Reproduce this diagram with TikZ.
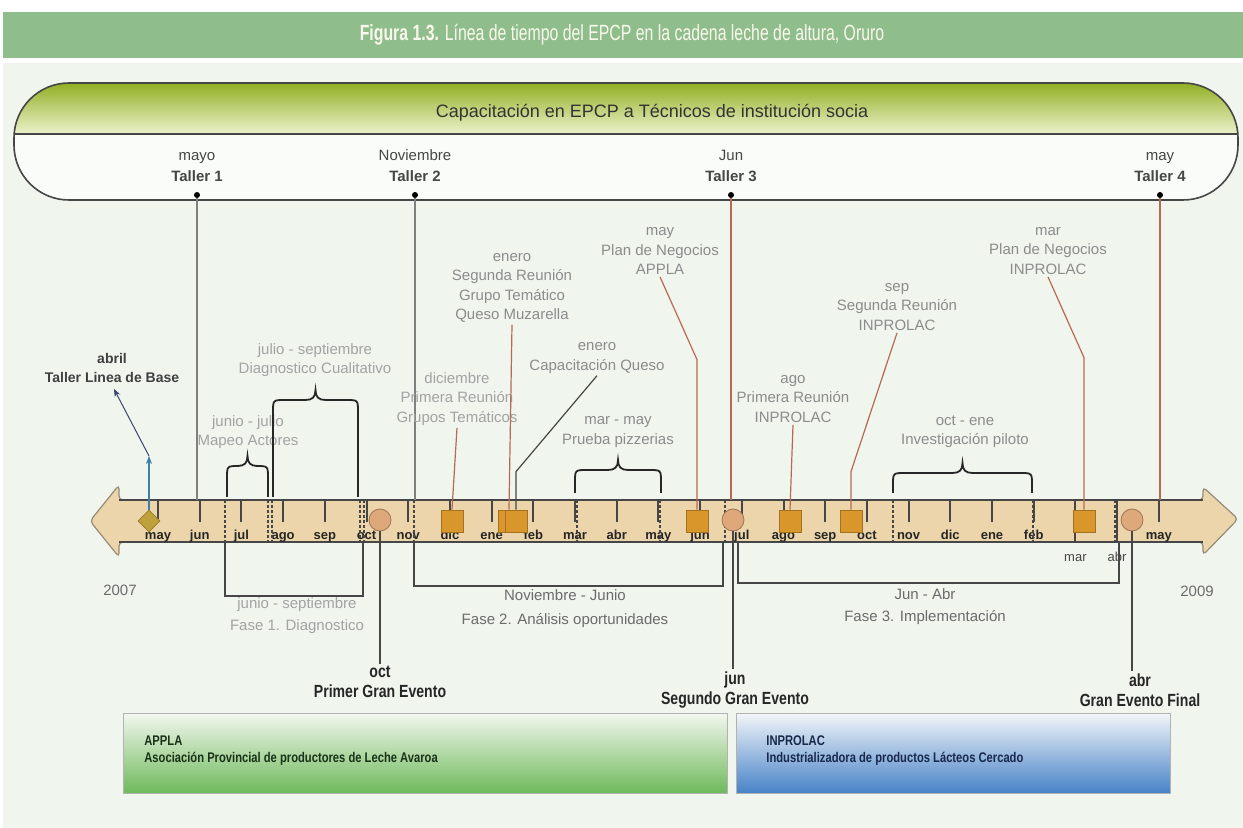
\documentclass[tikz,border=0pt]{standalone}
\usepackage{fontspec}
\setmainfont{Liberation Sans}
\newfontfamily\condfont[FakeStretch=0.8]{Liberation Sans}
\newfontfamily\titlefont[FakeStretch=0.72]{Liberation Sans}
\usetikzlibrary{positioning,calc,arrows.meta,shapes.geometric}
\definecolor{titlegreen}{RGB}{143,190,140}
\definecolor{titletext}{RGB}{250,248,236}
\definecolor{paper}{RGB}{240,245,238}
\definecolor{barfill}{RGB}{236,213,170}
\definecolor{baredge}{RGB}{150,138,120}
\definecolor{boxorange}{RGB}{217,150,42}
\definecolor{evfill}{RGB}{222,168,122}
\definecolor{leadred}{RGB}{185,105,80}
\definecolor{softgray}{RGB}{140,140,140}
\definecolor{darkgray}{RGB}{70,70,70}
\definecolor{capatop}{RGB}{145,175,35}
\definecolor{capamid}{RGB}{200,224,60}
\definecolor{capabot}{RGB}{236,242,205}
\definecolor{diafill}{RGB}{190,160,60}
\definecolor{diaedge}{RGB}{150,125,40}
\definecolor{arrowblue}{RGB}{60,127,168}
\definecolor{arrownavy}{RGB}{60,70,110}
\definecolor{appletop}{RGB}{242,247,238}
\definecolor{applebot}{RGB}{110,185,90}
\definecolor{inprotop}{RGB}{242,245,248}
\definecolor{inprobot}{RGB}{70,130,200}
\definecolor{appletext}{RGB}{25,50,25}
\definecolor{inprotext}{RGB}{25,40,75}

% brace over a group of months: x1, x2, bottom, top
\newcommand{\grpbrace}[4]{%
  \pgfmathsetmacro\brmid{(#1+#2)/2}
  \draw[brc] (#1,#3) -- (#1,#4+12) .. controls (#1,#4) .. (#1+12,#4)
    -- (\brmid-10,#4) .. controls (\brmid-3,#4) and (\brmid,#4-3) .. (\brmid,#4-10)
    .. controls (\brmid,#4-3) and (\brmid+3,#4) .. (\brmid+10,#4)
    -- (#2-12,#4) .. controls (#2,#4) .. (#2,#4+12) -- (#2,#3);}

\begin{document}
\begin{tikzpicture}[x=0.5pt,y=-0.5pt,
    lbl/.style={align=center,text=softgray,inner sep=1pt,font=\fontsize{7.5}{9.7}\selectfont},
    taller/.style={align=center,text=darkgray,inner sep=1pt,font=\fontsize{7.5}{10.5}\selectfont},
    fase/.style={align=center,text=darkgray!80,inner sep=1pt,font=\fontsize{7.5}{11}\selectfont},
    evento/.style={align=center,text=black!85,inner sep=1pt,font=\condfont\bfseries\fontsize{8.8}{10}\selectfont},
    mes/.style={anchor=base,inner sep=0pt,text=black!85,font=\bfseries\fontsize{6.5}{7}\selectfont},
    mesb/.style={anchor=base,inner sep=0pt,text=darkgray,font=\fontsize{6.5}{7}\selectfont},
    sq/.style={draw=boxorange!75!black,fill=boxorange,minimum size=11pt,inner sep=0pt},
    ev/.style={circle,draw=evfill!70!black,fill=evfill,minimum size=11pt,inner sep=0pt},
    dot/.style={circle,fill=black,minimum size=3pt,inner sep=0pt},
    tick/.style={draw=darkgray,line width=1pt},
    dashln/.style={draw=darkgray,line width=0.6pt,dash pattern=on 1.5pt off 1pt},
    lead/.style={draw=leadred,line width=0.6pt},
    brc/.style={draw=black!85,line width=0.9pt},
    phase/.style={draw=darkgray,line width=0.6pt},
    orgbox/.style={anchor=north west,draw=black!30,minimum width=302pt,minimum height=40pt},
    orgtxt/.style={anchor=north west,align=left,inner sep=0pt,font=\condfont\bfseries\fontsize{7}{8.5}\selectfont}]
  \useasboundingbox (0,0) rectangle (1243,828);
  \fill[white] (0,0) rectangle (1243,828);
  \fill[paper] (3,63) rectangle (1243,828);
  \fill[titlegreen] (3,12) rectangle (1243,58);
  \node[text=titletext,font=\titlefont\fontsize{11}{13}\selectfont] (title) at (622,35)
    {\textbf{Figura 1.3.} Línea de tiempo del EPCP en la cadena leche de altura, Oruro};

  % capsule of the training line
  \fill[white!70!paper,rounded corners=27.5pt] (14,83) rectangle (1238,200);
  \begin{scope}
    \clip[rounded corners=27.5pt] (14,83) rectangle (1238,200);
    \shade[top color=capatop,middle color=capamid,bottom color=capabot] (14,83) rectangle (1238,134);
  \end{scope}
  \draw[darkgray,line width=0.8pt,rounded corners=27.5pt] (14,83) rectangle (1238,200);
  \draw[darkgray,line width=0.8pt] (14,134) -- (1238,134);
  \node[text=black!80,font=\fontsize{9}{11}\selectfont] (capa) at (652,113)
    {Capacitación en EPCP a Técnicos de institución socia};

  % timeline bar
  \draw[baredge,fill=barfill,line width=0.6pt,rounded corners=2pt]
    (90,521) -- (119,485) -- (119,500) -- (1203,500) -- (1203,487) -- (1238,519)
    -- (1203,555) -- (1203,542) -- (119,542) -- (119,557) -- cycle;
  \draw[darkgray,line width=0.7pt] (119,500) -- (1203,500) (119,542) -- (1203,542);

  \foreach \m [count=\k from 0] in {may,jun,jul,ago,sep,oct,nov,dic,ene,feb,mar,abr,
      may,jun,jul,ago,sep,oct,nov,dic,ene,feb,mar,abr,may} {
    \coordinate (t\k) at ({158+41.7*\k},500);
    \pgfmathtruncatemacro\spc{(\k==22)+(\k==23)}
    \ifnum\spc=0
      \draw[tick] (t\k) -- ++(0,22);
      \node[mes] at ($(t\k)+(0,40)$) {\m};
    \else
      \draw[tick] (t\k) -- ++(0,42);
      \node[mesb] at ($(t\k)+(0,62)$) {\m};
    \fi
  }
  \foreach \x in {225,268,272,360,364,414,577,660,725,893,1033,1115}
    \draw[dashln] (\x,500) -- (\x,542);

  % workshops
  \node[dot] (d1) at (197,195) {};
  \node[dot] (d2) at (415,195) {};
  \node[dot] (d3) at (731,195) {};
  \node[dot] (d4) at (1160,195) {};
  \node[taller,above=4pt of d1] (w1) {mayo\\\textbf{Taller 1}};
  \node[taller,above=4pt of d2] (w2) {Noviembre\\\textbf{Taller 2}};
  \node[taller,above=4pt of d3] (w3) {Jun\\\textbf{Taller 3}};
  \node[taller,above=4pt of d4] (w4) {may\\\textbf{Taller 4}};
  \draw[gray,line width=0.6pt] (d1) -- (d1 |- t1);
  \draw[gray,line width=0.6pt] (d2) -- (d2 |- t6);
  \draw[leadred,line width=0.6pt] (d3) -- (d3 |- t13);
  \draw[leadred,line width=0.6pt] (d4) -- (d4 |- t24);

  % meetings and activities
  \node[sq] (sqDic) at (452,521) {};
  \node[sq] (sqEneA) at (509,521) {};
  \node[sq] (sqEneB) at (516,521) {};
  \node[sq] (sqJun) at (697,521) {};
  \node[sq] (sqAgo) at (790,521) {};
  \node[sq] (sqOct) at (851,521) {};
  \node[sq] (sqMar) at (1084,521) {};

  \node[lbl] (lbSeg) at (512,288) {enero\\Segunda Reunión\\Grupo Temático\\Queso Muzarella};
  \node[lbl] (lbAppla) at (660,251) {may\\Plan de Negocios\\APPLA};
  \node[lbl] (lbCap) at (597,358) {enero\\Capacitación Queso};
  \node[lbl,text=softgray!80] (lbDic) at (457,399) {diciembre\\Primera Reunión\\Grupos Temáticos};
  \node[lbl] (lbPiz) at (618,432) {mar - may\\Prueba pizzerias};
  \node[lbl] (lbAgo) at (793,399) {ago\\Primera Reunión\\INPROLAC};
  \node[lbl] (lbSep) at (897,307) {sep\\Segunda Reunión\\INPROLAC};
  \node[lbl] (lbMar) at (1048,251) {mar\\Plan de Negocios\\INPROLAC};
  \node[lbl] (lbInv) at (965,432) {oct - ene\\Investigación piloto};
  \node[lbl,text=softgray!80] (lbDiag) at (315,360) {julio - septiembre\\Diagnostico Cualitativo};
  \node[lbl,text=softgray!80] (lbMap) at (248,432) {junio - julio\\Mapeo Actores};
  \node[lbl,text=black!75,font=\bfseries\fontsize{7}{9.7}\selectfont] (lbAbril) at (112,368)
    {abril\\Taller Linea de Base};

  \draw[lead] (sqDic.north) -- (lbDic.south);
  \draw[lead] (sqEneA.north) -- (lbSeg.south);
  \draw[lead,draw=darkgray] (sqEneB.north) -- ++(0,-38) -- (lbCap.south);
  \draw[lead] (sqJun.north) -- ++(0,-150) -- (lbAppla.south);
  \draw[lead] (sqAgo.north) -- (lbAgo.south);
  \draw[lead] (sqOct.north) -- ++(0,-38) -- (lbSep.south);
  \draw[lead] (sqMar.north) -- ++(0,-152) -- (lbMar.south);

  \grpbrace{227}{268}{497}{466}
  \grpbrace{273}{358}{497}{400}
  \grpbrace{575}{661}{493}{470}
  \grpbrace{893}{1032}{493}{473}

  % base line workshop
  \node[diamond,draw=diaedge,fill=diafill,minimum size=11pt,inner sep=0pt] (dia) at (149,521) {};
  \coordinate (bl) at (149,456);
  \draw[arrowblue,line width=0.6pt,-{Stealth[length=4pt]}] (dia.north) -- (bl);
  \draw[arrownavy,line width=0.5pt,-{Stealth[length=4pt]},shorten >=2pt] (bl) -- (lbAbril.south);

  % phases
  \coordinate (f1a) at (225,542); \coordinate (f1b) at (363,542);
  \coordinate (f2a) at (414,542); \coordinate (f2b) at (723,542);
  \coordinate (f3a) at (738,542); \coordinate (f3b) at (1119,542);
  \draw[phase] (f1a) -- ++(0,54) -| (f1b);
  \draw[phase] (f2a) -- ++(0,44) -| (f2b);
  \draw[phase] (f3a) -- ++(0,41) -| (f3b);
  \node[fase,text=softgray!80] (p1) at (297,616) {junio - septiembre\\Fase 1. Diagnostico};
  \node[fase,font=\fontsize{7.5}{12}\selectfont] (p2) at (565,609) {Noviembre - Junio\\Fase 2. Análisis oportunidades};
  \node[fase] (p3) at (925,607) {Jun - Abr\\Fase 3. Implementación};
  \node[fase] (y1) at (120,590) {2007};
  \node[fase] (y2) at (1197,591) {2009};

  % big events
  \node[ev] (ev1) at (380,520) {};
  \node[ev] (ev2) at (733,520) {};
  \node[ev] (ev3) at (1132,520) {};
  \node[evento] (g1) at (380,682) {oct\\Primer Gran Evento};
  \node[evento] (g2) at (735,690) {jun\\Segundo Gran Evento};
  \node[evento] (g3) at (1140,690) {abr\\Gran Evento Final};
  \draw[darkgray,line width=0.6pt] (ev1.south) -- (ev1.south |- g1.north);
  \draw[darkgray,line width=0.6pt] (ev2.south) -- (ev2.south |- g2.north);
  \draw[darkgray,line width=0.6pt] (ev3.south) -- (ev3.south |- g3.north);

  % organisations
  \node[orgbox,top color=appletop,bottom color=applebot] (applabox) at (123,713) {};
  \node[orgbox,minimum width=217pt,top color=inprotop,bottom color=inprobot] (inprobox) at (736,713) {};
  \node[orgtxt,text=appletext] (applatxt) at ($(applabox.north west)+(21,22)$)
    {APPLA\\Asociación Provincial de productores de Leche Avaroa};
  \node[orgtxt,text=inprotext] (inprotxt) at ($(inprobox.north west)+(30,22)$)
    {INPROLAC\\Industrializadora de productos Lácteos Cercado};
\end{tikzpicture}
\end{document}
